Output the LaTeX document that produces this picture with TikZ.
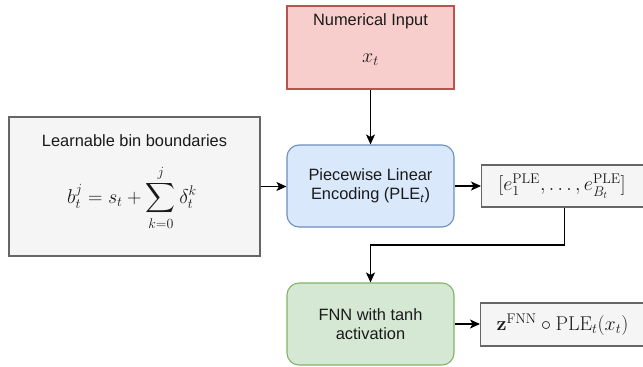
\RequirePackage{fix-cm}
\documentclass[tikz,border=0pt]{standalone}
\usepackage{exscale}
\usepackage[no-math]{fontspec}
\setmainfont{Liberation Sans}
\usetikzlibrary{arrows.meta}
\definecolor{redfill}{HTML}{F8CECC}
\definecolor{redline}{HTML}{B85450}
\definecolor{bluefill}{HTML}{DAE8FC}
\definecolor{blueline}{HTML}{6C8EBF}
\definecolor{greenfill}{HTML}{D5E8D4}
\definecolor{greenline}{HTML}{82B366}
\definecolor{grayfill}{HTML}{F5F5F5}
\definecolor{grayline}{HTML}{666666}
\definecolor{txt}{HTML}{1A1A1A}
\tikzset{
  box/.style={draw, line width=1.1pt, inner sep=0pt, align=center, text=txt, font=\fontsize{16.4}{19.5}\selectfont},
  inpbox/.style={box, fill=redfill, draw=redline, minimum width=167pt, minimum height=83pt},
  plebox/.style={box, fill=bluefill, draw=blueline, rounded corners=12pt, minimum width=167pt, minimum height=82pt},
  fnnbox/.style={box, fill=greenfill, draw=greenline, rounded corners=12pt, minimum width=167pt, minimum height=82pt},
  graybox/.style={box, fill=grayfill, draw=grayline},
  lbl/.style={inner sep=0pt, text=txt, font=\fontsize{16.4}{19.5}\selectfont},
  mathlbl/.style={inner sep=0pt, text=txt, font=\fontsize{20}{24}\selectfont},
  conn/.style={line width=1.3pt, -{Stealth[length=10pt, width=9pt, inset=2.5pt]}}
}
\begin{document}
\begin{tikzpicture}[x=1pt, y=-1pt]
\useasboundingbox (0,0) rectangle (643,367);
% boxes
\node[inpbox] (inp) at (370.5,47.5) {};
\node[lbl] (inpt) at (370.5,21) {Numerical Input};
\node[mathlbl] (inpx) at (370.5,60) {$x_t$};
\node[plebox] (ple) at (370.5,186) {Piecewise Linear\\Encoding (PLE\textsubscript{\textit{t}})};
\node[graybox, minimum width=251pt, minimum height=139pt] (bins) at (134.5,186.5) {};
\node[lbl] (binst) at (134.5,141) {Learnable bin boundaries};
\node[mathlbl] (binsf) at (132,198) {$\displaystyle b_t^j = s_t + \sum_{k=0}^{j} \delta_t^k$};
\node[graybox, minimum width=166pt, minimum height=42pt, anchor=west] (e) at (481,186) {};
\node[mathlbl] (et) at (562,186) {$[e_1^{\mathrm{PLE}}, \ldots, e_{B_t}^{\mathrm{PLE}}]$};
\node[fnnbox] (fnn) at (370.5,324) {FNN with tanh\\activation};
\node[graybox, minimum width=166pt, minimum height=43pt, anchor=west] (z) at (480,324.5) {};
\node[mathlbl] (zt) at (562.5,324.5) {$\mathbf{z}^{\mathrm{FNN}} \circ \mathrm{PLE}_t(x_t)$};
% connectors
\coordinate (bend) at (370.5,245);
\draw[conn] (inp.south) -- (ple.north);
\draw[conn] (bins.east) -- (ple.west |- bins.east);
\draw[conn] (ple.east) -- (e.west |- ple.east);
\draw[conn] (e.south) |- (bend) -- (fnn.north);
\draw[conn] (fnn.east) -- (z.west |- fnn.east);
\end{tikzpicture}
\end{document}
